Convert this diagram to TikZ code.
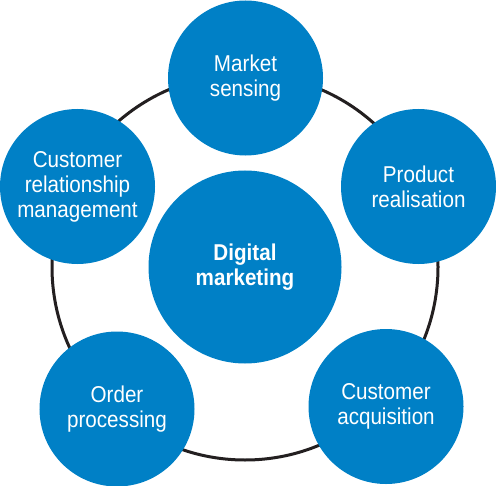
\documentclass[tikz,border=0pt]{standalone}
\usepackage{fontspec}
\setmainfont{Liberation Sans}[FakeStretch=0.9]
\definecolor{petalblue}{RGB}{0,128,198}
\definecolor{ringgrey}{RGB}{35,31,32}
\begin{document}
\begin{tikzpicture}[x=1bp,y=-1bp,
        petal/.style={circle,fill=petalblue,minimum size=155bp,inner sep=0pt,
            text=white,align=center,font=\fontsize{23}{25}\selectfont},
        hubnode/.style={petal,minimum size=193bp,font=\fontsize{23}{25}\selectfont\bfseries},
        ring/.style={draw=ringgrey,line width=3bp}]
        \useasboundingbox (0,0) rectangle (496,486);
        \coordinate (hub) at (245,267);
        \draw[ring] (hub) circle (193);
        \foreach \n/\x/\y/\t in {ms/245.5/78/{Market\\sensing},
                                 pr/418.5/186.5/{Product\\realisation},
                                 ca/386/406.5/{Customer\\acquisition},
                                 op/117/409/{Order\\processing},
                                 crm/77.5/186.5/{Customer\\relationship\\management}} {
            \node[petal] (\n) at (\x,\y) {\t};
        }
        \node[hubnode] (dm) at (hub) {Digital\\marketing};
        \end{tikzpicture}
\end{document}
